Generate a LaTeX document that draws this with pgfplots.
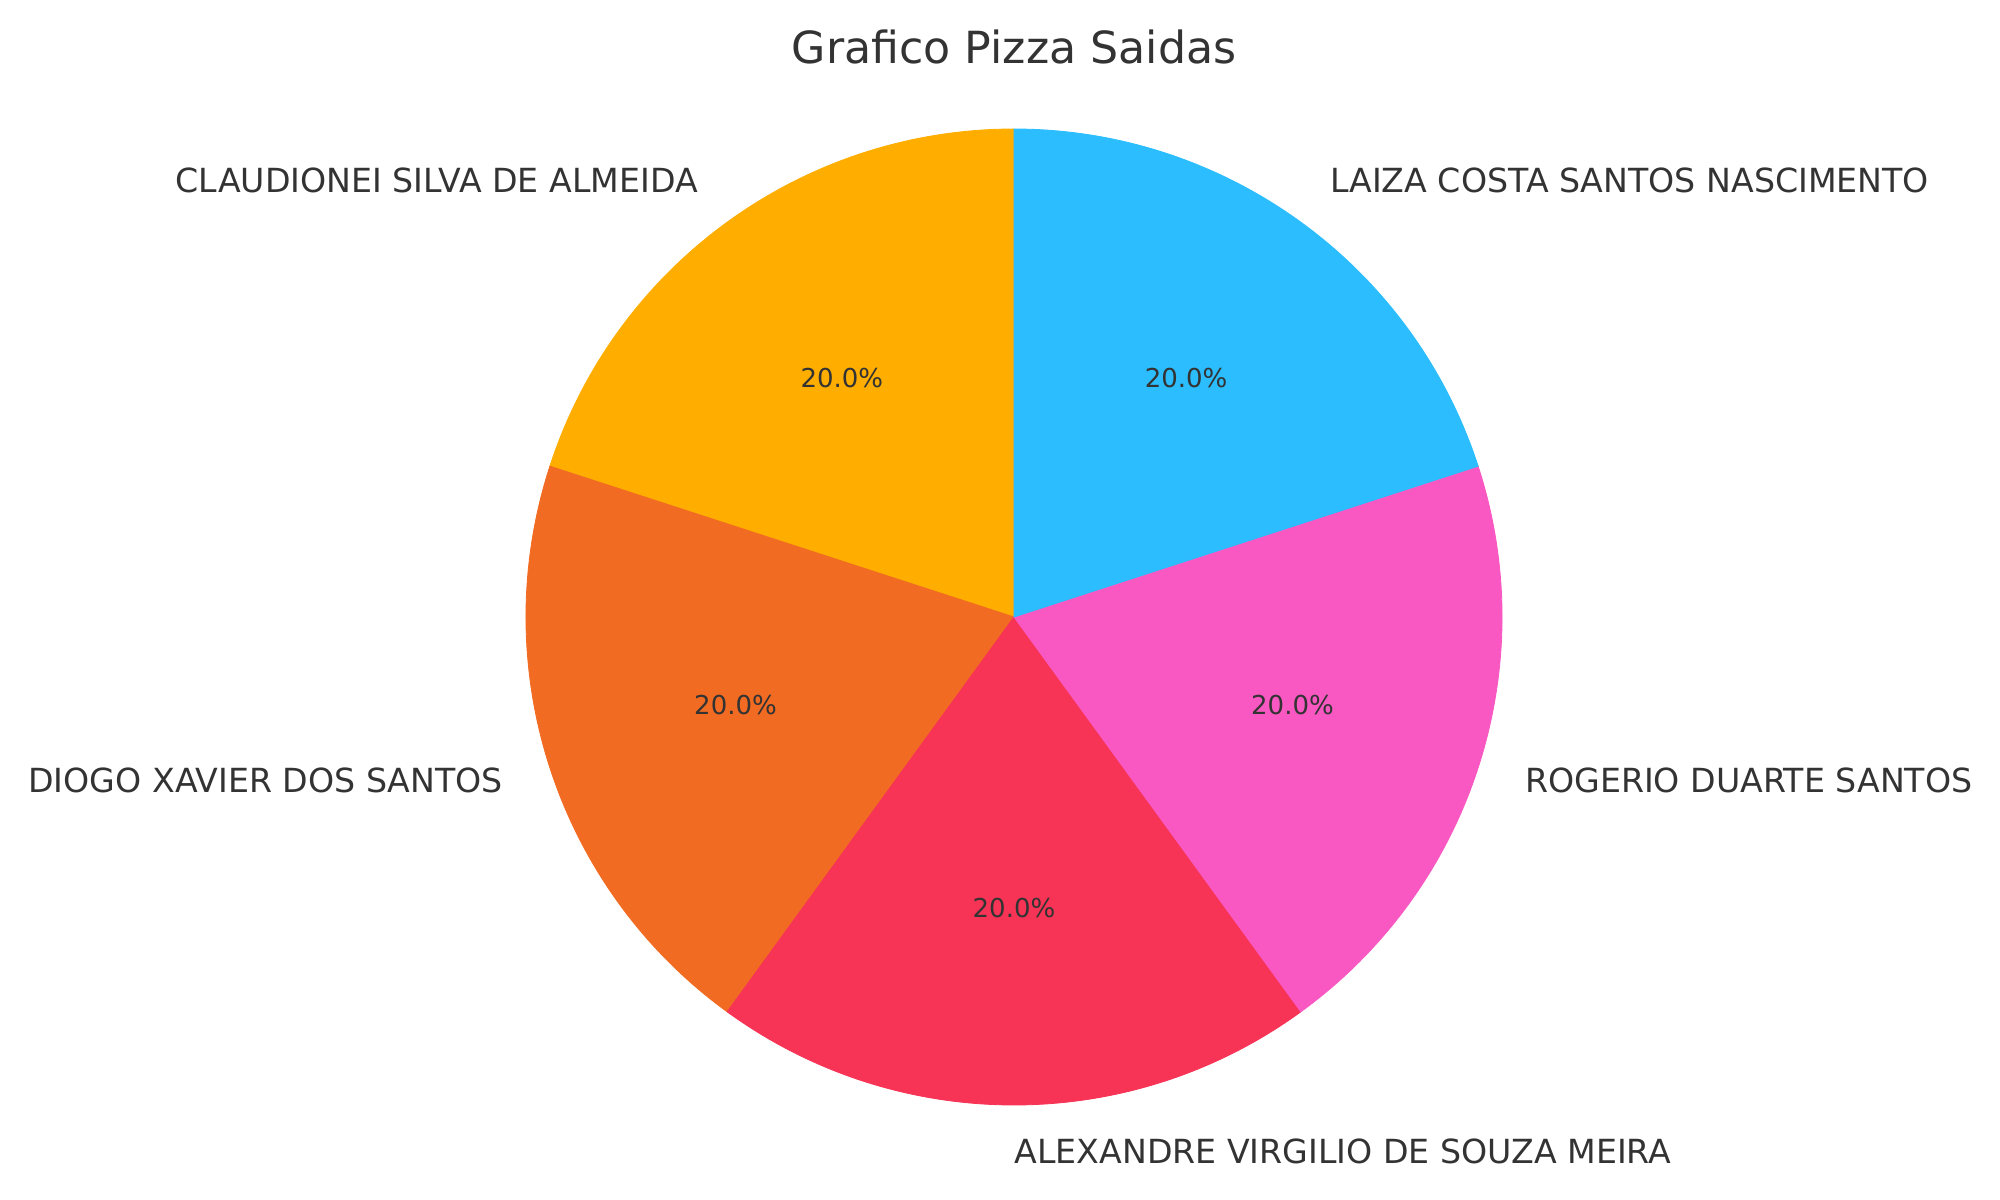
\documentclass[border=0pt]{standalone}
\usepackage{pgfplots}
\pgfplotsset{compat=1.18}
\usepackage{pgfplotstable}
\usepackage{fontspec}
\setmainfont{DejaVu Sans}

\definecolor{txt}{HTML}{333333}
\definecolor{cClaud}{HTML}{FFAE00}
\definecolor{cDiogo}{HTML}{F26B22}
\definecolor{cAlex}{HTML}{F73356}
\definecolor{cRog}{HTML}{F958C3}
\definecolor{cLaiza}{HTML}{2BBDFE}

% slices in drawing order (start at 90 deg, counter-clockwise)
\pgfplotstableread[col sep=comma]{
name,value,color
CLAUDIONEI SILVA DE ALMEIDA,20,cClaud
DIOGO XAVIER DOS SANTOS,20,cDiogo
ALEXANDRE VIRGILIO DE SOUZA MEIRA,20,cAlex
ROGERIO DUARTE SANTOS,20,cRog
LAIZA COSTA SANTOS NASCIMENTO,20,cLaiza
}\piedata

% geometry in pixel units of a 2000x1200 canvas
\def\cx{1014}
\def\cy{583}
\def\rpx{488}

\begin{document}
\begin{tikzpicture}
% total of values
\gdef\pietotal{0}
\foreach \i in {0,...,4}{%
  \pgfplotstablegetelem{\i}{value}\of\piedata
  \pgfmathsetmacro\t{\pietotal+\pgfplotsretval}%
  \xdef\pietotal{\t}%
}
% angles and label positions
\gdef\cur{90}
\foreach \i in {0,...,4}{%
  \pgfplotstablegetelem{\i}{value}\of\piedata
  \let\v\pgfplotsretval
  \pgfmathsetmacro\e{\cur+360*\v/\pietotal}%
  \pgfmathsetmacro\m{(\cur+\e)/2}%
  \pgfmathsetmacro\pc{100*\v/\pietotal}%
  \expandafter\xdef\csname pa\i\endcsname{\cur}%
  \expandafter\xdef\csname pb\i\endcsname{\e}%
  \expandafter\xdef\csname pp\i\endcsname{\pc}%
  \pgfmathsetmacro\lx{\cx+1.1*\rpx*cos(\m)}%
  \pgfmathsetmacro\ly{\cy+1.1*\rpx*sin(\m)-9.3}%
  \expandafter\xdef\csname lx\i\endcsname{\lx}%
  \expandafter\xdef\csname ly\i\endcsname{\ly}%
  \pgfmathsetmacro\qx{\cx+0.6*\rpx*cos(\m)}%
  \pgfmathsetmacro\qy{\cy+0.6*\rpx*sin(\m)-7.2}%
  \expandafter\xdef\csname qx\i\endcsname{\qx}%
  \expandafter\xdef\csname qy\i\endcsname{\qy}%
  \pgfmathparse{cos(\m)<-0.01 ? 1 : 0}%
  \ifnum\pgfmathresult=1
    \expandafter\xdef\csname ph\i\endcsname{base east}%
  \else
    \expandafter\xdef\csname ph\i\endcsname{base west}%
  \fi
  \pgfplotstablegetelem{\i}{name}\of\piedata
  \expandafter\xdef\csname pn\i\endcsname{\pgfplotsretval}%
  \pgfplotstablegetelem{\i}{color}\of\piedata
  \expandafter\xdef\csname pc\i\endcsname{\pgfplotsretval}%
  \xdef\cur{\e}%
}
\pgfmathsetlengthmacro\R{\rpx*0.36135pt}
\begin{axis}[
  scale only axis,
  width=722.7pt, height=433.62pt,
  xmin=0, xmax=2000, ymin=0, ymax=1200,
  hide axis, clip=false,
]
\pgfplotsinvokeforeach{0,...,4}{
  \fill[color=\csname pc#1\endcsname, draw=\csname pc#1\endcsname, line width=0.3pt]
    (axis cs:\cx,\cy) -- ++(\csname pa#1\endcsname:\R)
    arc[start angle=\csname pa#1\endcsname, end angle=\csname pb#1\endcsname, radius=\R] -- cycle;
}
\pgfplotsinvokeforeach{0,...,4}{
  \node[anchor=\csname ph#1\endcsname, inner sep=0pt, text=txt,
        font=\fontsize{12}{14}\selectfont]
    at (axis cs:\csname lx#1\endcsname,\csname ly#1\endcsname) {\csname pn#1\endcsname};
  \node[anchor=base, inner sep=0pt, text=txt, font=\fontsize{9.4}{11}\selectfont]
    at (axis cs:\csname qx#1\endcsname,\csname qy#1\endcsname)
    {\pgfmathprintnumber[fixed,fixed zerofill,precision=1,assume math mode=true]{\csname pp#1\endcsname}\%};
}
\node[anchor=base, inner sep=0pt, text=txt, font=\fontsize{16}{19}\selectfont]
  at (axis cs:1014,1136) {Grafico Pizza Saidas};
\end{axis}
\pgfresetboundingbox
\path (current axis.south west) rectangle (current axis.north east);
\end{tikzpicture}
\end{document}
